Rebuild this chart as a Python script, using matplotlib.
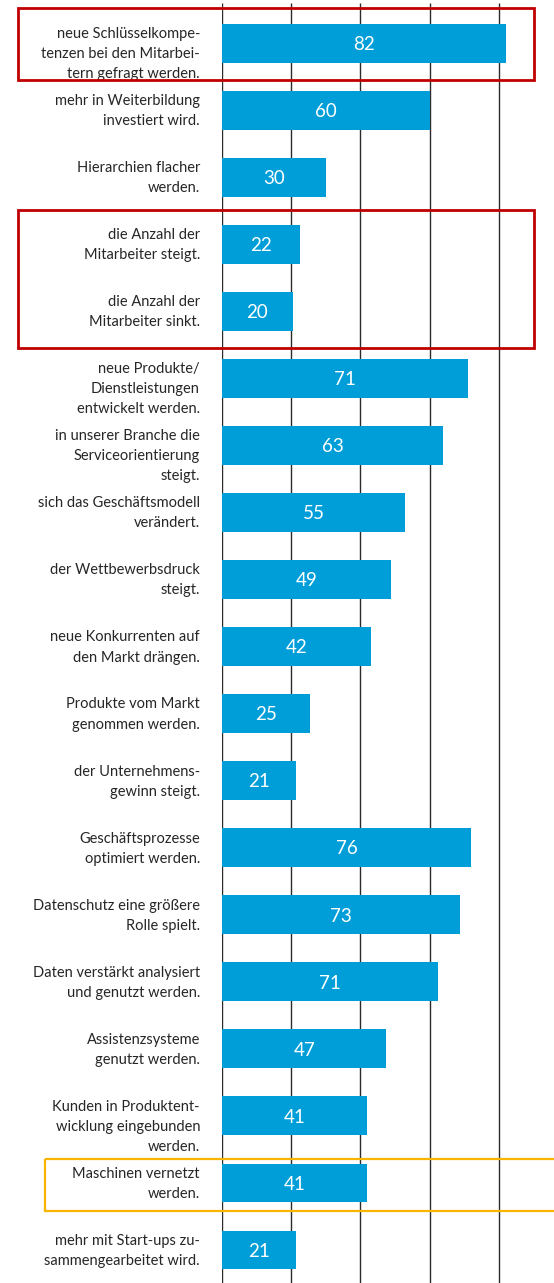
import matplotlib.pyplot as plt
from matplotlib.patches import Rectangle

# Aussagen (Zeilen von oben nach unten)
aussagen = [
    "neue Schlüsselkompe-\ntenzen bei den Mitarbei-\ntern gefragt werden.",
    "mehr in Weiterbildung\ninvestiert wird.",
    "Hierarchien flacher\nwerden.",
    "die Anzahl der\nMitarbeiter steigt.",
    "die Anzahl der\nMitarbeiter sinkt.",
    "neue Produkte/\nDienstleistungen\nentwickelt werden.",
    "in unserer Branche die\nServiceorientierung\nsteigt.",
    "sich das Geschäftsmodell\nverändert.",
    "der Wettbewerbsdruck\nsteigt.",
    "neue Konkurrenten auf\nden Markt drängen.",
    "Produkte vom Markt\ngenommen werden.",
    "der Unternehmens-\ngewinn steigt.",
    "Geschäftsprozesse\noptimiert werden.",
    "Datenschutz eine größere\nRolle spielt.",
    "Daten verstärkt analysiert\nund genutzt werden.",
    "Assistenzsysteme\ngenutzt werden.",
    "Kunden in Produktent-\nwicklung eingebunden\nwerden.",
    "Maschinen vernetzt\nwerden.",
    "mehr mit Start-ups zu-\nsammengearbeitet wird.",
]
# gedruckte Werte
werte = [82, 60, 30, 22, 20, 71, 63, 55, 49, 42, 25, 21, 76, 73, 71, 47, 41, 41, 21]
# Balkenlaengen wie im Original gezeichnet
laengen = [82, 60, 30, 22.5, 20.5, 71, 64, 53, 48.7, 43, 25.5, 21.4,
           72, 68.7, 62.3, 47.5, 41.8, 41.8, 21.4]
gitter = [0, 20, 40, 60, 80]

# Markierungen: (erste Zeile, letzte Zeile, Farbe)
markiert = [(0, 0, "#C00000"), (3, 4, "#C00000"), (17, 17, "#F7B500")]

blau = "#009ED9"
plt.rcParams['font.family'] = ['Lato', 'DejaVu Sans']

W, H = 554, 1283
px = 3.46  # pixel je Prozentpunkt
fig = plt.figure(figsize=(W / 100, H / 100), dpi=100)
ax = fig.add_axes([222 / W, 0, (W - 222) / W, 1280 / H])
ax.set_xlim(0, (W - 222) / px)
ax.set_ylim(18.495, -0.601)
ax.axis('off')

ax.vlines(gitter, -0.601, 18.495, color="#2b2b2b", lw=1.0, zorder=1)

y = list(range(len(werte)))
ax.barh(y, laengen, height=0.575, color=blau, zorder=2)

for i, (t, w, l) in enumerate(zip(aussagen, werte, laengen)):
    ax.text(l / 2, i + 0.02, str(w), ha='center', va='center', color='white',
            fontsize=13.5, zorder=3)
    ax.text(-22 / px, i - 0.24, t, ha='right', va='top', color='#262626',
            fontsize=10.5, linespacing=1.55, multialignment='right',
            clip_on=False)

for a, b, farbe in markiert:
    if farbe == "#C00000":
        x0, x1, oben, unten, lw = -204 / px, 312 / px, 0.52, 0.55, 2.0
    else:
        x0, x1, oben, unten, lw = -177 / px, 340 / px, 0.36, 0.42, 1.6
    r = Rectangle((x0, a - oben), x1 - x0, (b - a) + oben + unten,
                  fill=False, ec=farbe, lw=lw, clip_on=False, zorder=4)
    ax.add_patch(r)

fig.savefig("out.png", dpi=100)
